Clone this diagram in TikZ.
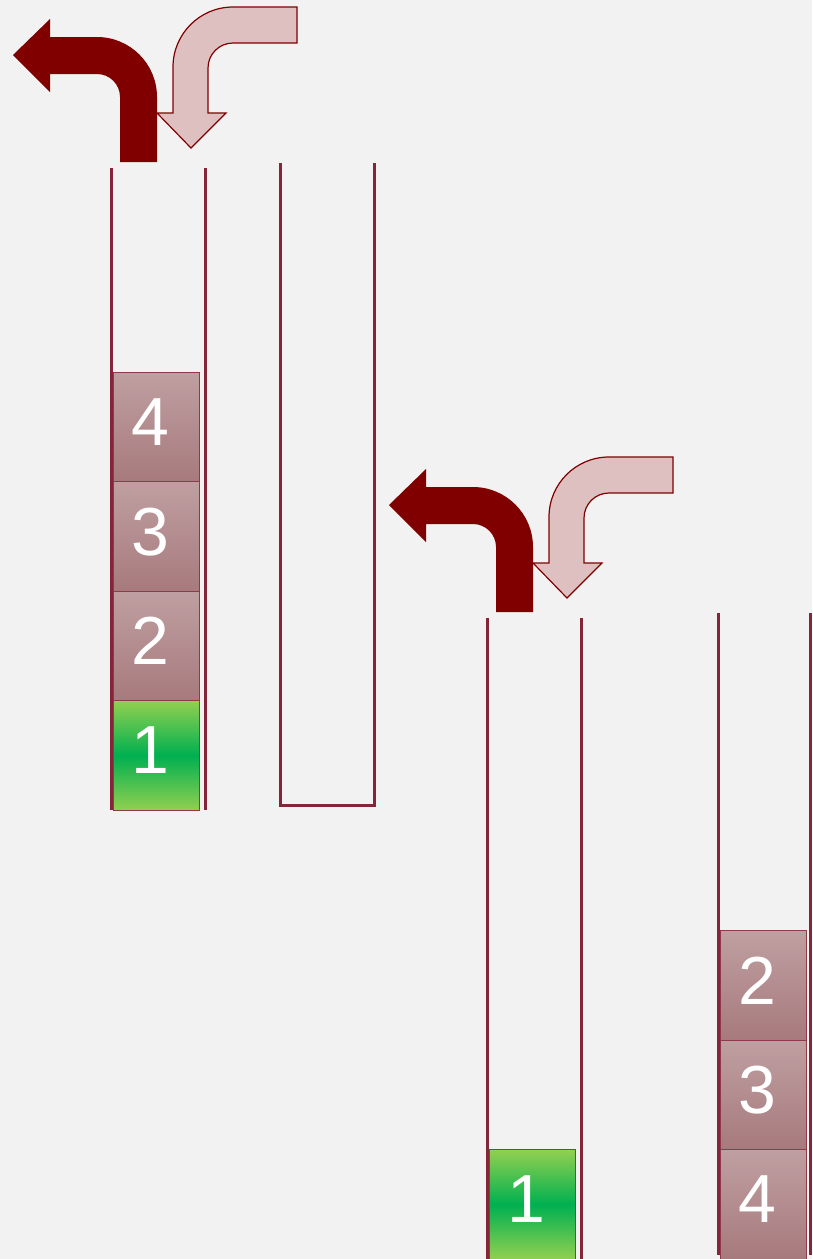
\documentclass[tikz,border=0pt]{standalone}
\usepackage{fontspec}
\setmainfont{Liberation Sans}
\usetikzlibrary{positioning}

\definecolor{paper}{HTML}{F2F2F2}
\definecolor{wallred}{HTML}{852538}
\definecolor{darkarrow}{HTML}{800000}
\definecolor{palearrow}{HTML}{DEC0C1}
\definecolor{bricktop}{HTML}{BF9FA1}
\definecolor{brickbot}{HTML}{A77A7D}
\definecolor{brickedge}{HTML}{8E3A4B}
\definecolor{greenlight}{HTML}{92D050}
\definecolor{greendark}{HTML}{00B050}

\begin{document}
\begin{tikzpicture}[
  x=1pt, y=-1pt,
  node distance=0pt,
  wall/.style={draw=wallred, line width=3pt},
  brick/.style={draw=brickedge, line width=1pt, rectangle, outer sep=0pt, inner sep=0pt,
    minimum width=86pt, minimum height=109.5pt, text=white, text depth=10pt,
    font=\fontsize{68}{68}\selectfont, top color=bricktop, bottom color=brickbot,
    execute at end node=\hspace*{12pt}},
  firstbrick/.style={brick, top color=greenlight, bottom color=greenlight, middle color=greendark},
  poparrow/.style={fill=darkarrow},
  pusharrow/.style={fill=palearrow, draw=darkarrow, line width=1.2pt},
  turnarrows/.pic={
    % dark arrow: out of the stack, to the left
    \fill[poparrow] (157,162) [rounded corners=60pt] -- (157,37) [sharp corners] -- (50,37)
      -- (50,19) -- (13,55) -- (50,92) -- (50,74) [rounded corners=23pt] -- (120,74)
      [sharp corners] -- (120,162) -- cycle;
    % pale arrow: into the stack, from the right
    \filldraw[pusharrow] (297,7) [rounded corners=60pt] -- (173,7) [sharp corners] -- (173,113)
      -- (157,113) -- (191,148) -- (226,113) -- (208,113) [rounded corners=25pt] -- (208,43)
      [sharp corners] -- (297,43) -- cycle;
  }
]
  \fill[paper] (0,0) rectangle (812,1259);
  \clip (0,0) rectangle (812,1259);

  % first stage
  \pic at (0,0) {turnarrows};
  \draw[wall] (111,168) -- (111,810);
  \draw[wall] (205,168) -- (205,810);
  \draw[wall] (280,163) -- (280,805) -- (374,805) -- (374,163);

  \node[firstbrick] (b1) at (156,755.5) {1};
  \node[brick, above=of b1] (b2) {2};
  \node[brick, above=of b2] (b3) {3};
  \node[brick, above=of b3] (b4) {4};

  % second stage
  \pic at (376,450) {turnarrows};
  \draw[wall] (487,618) -- (487,1262);
  \draw[wall] (581,618) -- (581,1262);
  \draw[wall] (718,613) -- (718,1255);
  \draw[wall] (810.5,613) -- (810.5,1255);

  \node[firstbrick] (c1) at (532,1204.5) {1};

  \node[brick] (d4) at (763,1204.5) {4};
  \node[brick, above=of d4] (d3) {3};
  \node[brick, above=of d3] (d2) {2};
\end{tikzpicture}
\end{document}
